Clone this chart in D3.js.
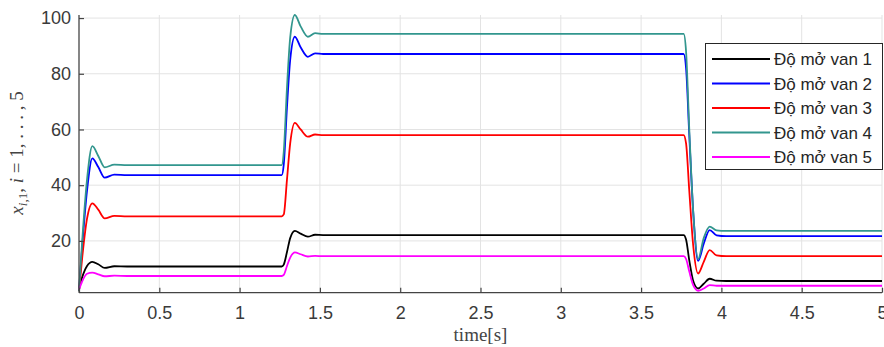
<!DOCTYPE html>
<html>
<head>
<meta charset="utf-8">
<script src="https://cdn.jsdelivr.net/npm/d3@7"></script>
<style>
  body { margin: 0; background: #fff; }
  svg { display: block; }
</style>
</head>
<body>
<div id="chart"></div>
<script>
// time samples (s)
var time = [0, 0.02, 0.05, 0.083, 0.12, 0.16, 0.22, 0.3,
  1.262, 1.275, 1.295, 1.315, 1.344, 1.38, 1.425, 1.47, 1.52,
  3.765, 3.78, 3.80, 3.825, 3.855, 3.89, 3.927, 3.97, 4.03, 5];

var van1 = [3, 7, 11, 12.5, 11.6, 10.3, 10.9, 10.8,
  10.8, 11.5, 16, 21, 23.6, 22.6, 21.5, 22.2, 22.1,
  22.1, 20.5, 13, 5.5, 2.9, 4.6, 6.4, 5.7, 5.6, 5.6];
var van2 = [2, 18, 38, 49.6, 46.5, 42.7, 43.8, 43.6,
  43.6, 47.5, 68, 85, 93.3, 89.5, 86.1, 87.3, 87.1,
  87.1, 82, 58, 30, 12.8, 19, 23.9, 22, 21.7, 21.7];
var van3 = [2, 14, 28, 33.5, 31.2, 28.1, 29, 28.8,
  28.8, 29.5, 42, 55, 62.4, 60, 57.4, 58.2, 58,
  58, 55, 38, 18, 8.3, 12.5, 16.7, 14.8, 14.5, 14.5];
var van4 = [2, 20, 42, 54, 50.5, 46.4, 47.4, 47.2,
  47.2, 52, 75, 93, 101.1, 97, 93.3, 94.6, 94.3,
  94.3, 88, 60, 30, 13.5, 21, 25.1, 23.8, 23.6, 23.6];
var van5 = [2.5, 5.5, 8.2, 8.6, 8, 7.3, 7.5, 7.4,
  7.4, 7.8, 11, 14, 15.9, 15.2, 14.4, 14.6, 14.5,
  14.5, 13.5, 9, 4, 2.1, 2.9, 4.1, 3.9, 3.9, 3.9];

var seriesNames = ["Độ mở van 1", "Độ mở van 2", "Độ mở van 3", "Độ mở van 4", "Độ mở van 5"];
var seriesColors = ["#000000", "#0000ff", "#ff0000", "#32968e", "#ff00ff"];
var xTicks = [0, 0.5, 1, 1.5, 2, 2.5, 3, 3.5, 4, 4.5, 5];
var yTicks = [20, 40, 60, 80, 100];
var xDomain = [0, 5];
var yDomain = [1.4, 101.1];

var W = 884, H = 347;
var plotL = 79, plotR = 882, plotT = 15, plotB = 292.7;

var svg = d3.select("#chart").append("svg")
  .attr("width", W).attr("height", H);

var x = d3.scaleLinear().domain(xDomain).range([plotL, plotR]);
var y = d3.scaleLinear().domain(yDomain).range([plotB, plotT]);

// grid
svg.append("g").selectAll("line").data(xTicks.slice(1)).enter().append("line")
  .attr("x1", function(d) { return x(d); }).attr("x2", function(d) { return x(d); })
  .attr("y1", plotT).attr("y2", plotB)
  .attr("stroke", "#e3e3e3").attr("stroke-width", 1);
svg.append("g").selectAll("line").data(yTicks).enter().append("line")
  .attr("x1", plotL).attr("x2", plotR)
  .attr("y1", function(d) { return y(d); }).attr("y2", function(d) { return y(d); })
  .attr("stroke", "#e3e3e3").attr("stroke-width", 1);

// lines
var data = [van1, van2, van3, van4, van5];
var line = d3.line()
  .x(function(d, i) { return x(time[i]); })
  .y(function(d) { return y(d); })
  .curve(d3.curveMonotoneX);

svg.append("g").selectAll("path").data(data).enter().append("path")
  .attr("d", line)
  .attr("fill", "none")
  .attr("stroke", function(d, i) { return seriesColors[i]; })
  .attr("stroke-width", 1.8)
  .attr("stroke-linejoin", "round");

// axes
var xAxis = d3.axisBottom(x).tickValues(xTicks).tickSizeInner(-5).tickSizeOuter(0)
  .tickPadding(14).tickFormat(d3.format("~g"));
var yAxis = d3.axisLeft(y).tickValues(yTicks).tickSizeInner(-5).tickSizeOuter(0)
  .tickPadding(8);

var gx = svg.append("g").attr("transform", "translate(0," + plotB + ")").call(xAxis);
var gy = svg.append("g").attr("transform", "translate(" + plotL + ",0)").call(yAxis);

[gx, gy].forEach(function(g) {
  g.select(".domain").attr("stroke", "#444").attr("stroke-width", 1.3);
  g.selectAll(".tick line").attr("stroke", "#444").attr("stroke-width", 1.2);
  g.selectAll(".tick text")
    .attr("fill", "#3a3a3a")
    .style("font-family", "'Liberation Sans', Arial, sans-serif")
    .style("font-size", "18px");
});
gy.select(".domain").attr("d", "M0," + plotB + "V" + plotT);
gx.select(".domain").attr("d", "M" + plotL + ",0H" + plotR);

// axis labels
svg.append("text")
  .attr("x", (plotL + plotR) / 2).attr("y", 341)
  .attr("text-anchor", "middle")
  .attr("fill", "#444")
  .style("font-family", "'Liberation Serif', 'DejaVu Serif', serif")
  .style("font-size", "19px")
  .text("time[s]");

var yl = svg.append("text")
  .attr("transform", "translate(23,153) rotate(-90)")
  .attr("text-anchor", "middle")
  .attr("fill", "#444")
  .style("font-family", "'Liberation Serif', 'DejaVu Serif', serif")
  .style("font-size", "19px");
yl.append("tspan").style("font-style", "italic").text("x");
yl.append("tspan").attr("dy", 4).style("font-size", "13px").style("font-style", "italic").text("i");
yl.append("tspan").style("font-size", "13px").text(",1");
yl.append("tspan").attr("dy", -4).text(", ");
yl.append("tspan").style("font-style", "italic").text("i");
yl.append("tspan").text(" = 1, . . . , 5");

// legend
var lg = svg.append("g");
lg.append("rect")
  .attr("x", 705.5).attr("y", 43.5).attr("width", 177).attr("height", 126)
  .attr("fill", "#fff").attr("stroke", "#262626").attr("stroke-width", 1);
var rows = lg.selectAll("g.row").data(seriesNames).enter().append("g")
  .attr("transform", function(d, i) { return "translate(0," + (59 + i * 24.5) + ")"; });
rows.append("line")
  .attr("x1", 712).attr("x2", 770).attr("y1", 0).attr("y2", 0)
  .attr("stroke", function(d, i) { return seriesColors[i]; })
  .attr("stroke-width", 1.8);
rows.append("text")
  .attr("x", 774).attr("y", 6)
  .attr("fill", "#262626")
  .style("font-family", "'Liberation Sans', Arial, sans-serif")
  .style("font-size", "17px")
  .text(function(d) { return d; });
</script>
</body>
</html>
